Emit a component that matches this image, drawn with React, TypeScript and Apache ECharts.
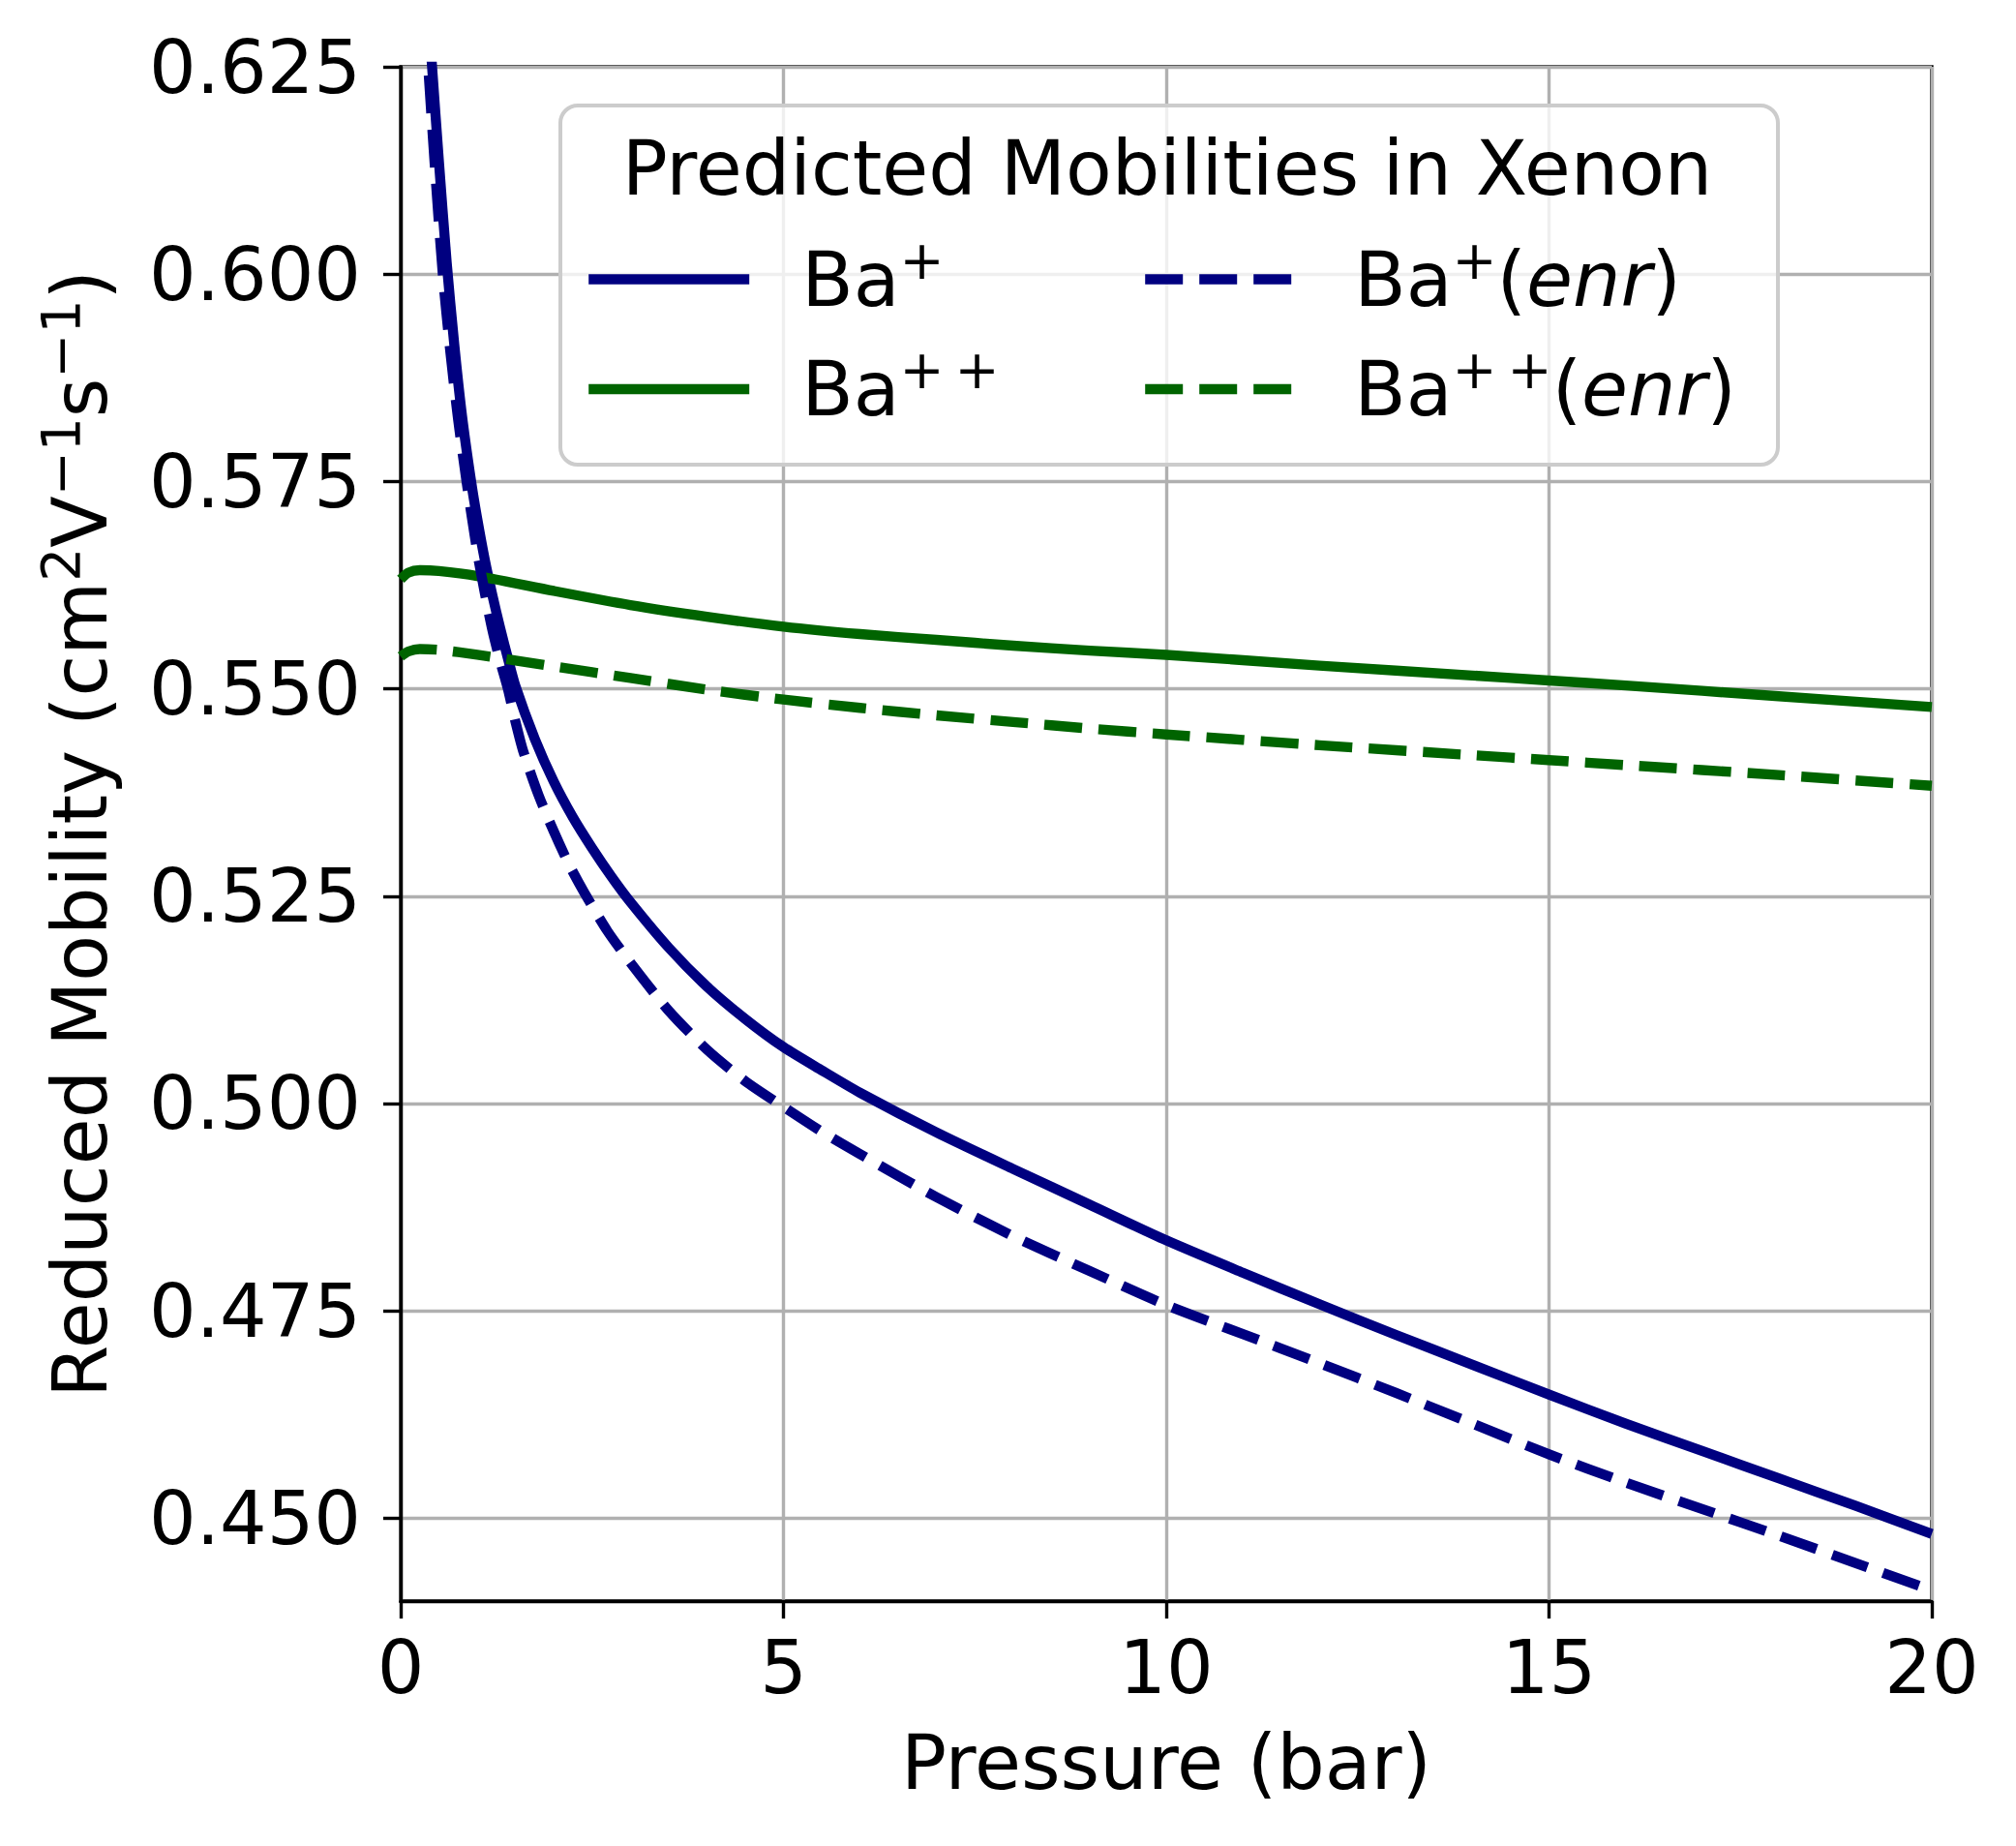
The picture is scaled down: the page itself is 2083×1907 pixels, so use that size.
import React, { useEffect, useRef } from "react";
import * as echarts from "echarts";

const xTicks = [0, 5, 10, 15, 20];
const yTicks = [0.45, 0.475, 0.5, 0.525, 0.55, 0.575, 0.6, 0.625];

const legendTitle = "Predicted Mobilities in Xenon";
const xAxisTitle = "Pressure (bar)";
const yAxisTitleRich = "{t|Reduced Mobility (cm}{s|2}{t|V}{s|\u22121}{t|s}{s|\u22121}{t|)}";

const seriesNames = ["Ba+", "Ba++", "Ba+(enr)", "Ba++(enr)"];
const seriesRichLabels = [
  "{t|Ba}{s|+}",
  "{t|Ba}{s|+\u2009+}",
  "{t|Ba}{s|+}{t|(}{i|enr}{t|)}",
  "{t|Ba}{s|+\u2009+}{t|(}{i|enr}{t|)}",
];

// Ba+ (solid)
const pressureBaPlus = [0.3, 0.35, 0.41, 0.5, 0.6, 0.7, 0.8, 0.92, 1.0, 1.1, 1.2, 1.3, 1.4, 1.5, 1.75, 2.0, 2.25, 2.5, 2.75, 3.0, 3.5, 4.0, 4.5, 5.0, 5.5, 6.0, 7, 8, 9, 10, 11, 12, 13, 14, 15, 16, 17, 18, 19, 20];
const mobilityBaPlus = [0.641, 0.633, 0.625, 0.6135, 0.6015, 0.5915, 0.583, 0.575, 0.5705, 0.5655, 0.5612, 0.5573, 0.5537, 0.5503, 0.544, 0.5388, 0.5345, 0.5308, 0.5274, 0.5243, 0.5188, 0.5141, 0.5102, 0.5068, 0.504, 0.5013, 0.4965, 0.4921, 0.4878, 0.4835, 0.4796, 0.4758, 0.4721, 0.4685, 0.4649, 0.4614, 0.4581, 0.4548, 0.4515, 0.4481];

// Ba+ (enr) (dashed)
const pressureBaPlusEnr = [0.28, 0.36, 0.45, 0.55, 0.65, 0.75, 0.86, 1.0, 1.1, 1.2, 1.3, 1.4, 1.5, 1.6, 1.8, 2.0, 2.2, 2.4, 2.7, 3.0, 3.5, 4.0, 4.5, 5.0, 5.5, 6.0, 7, 8, 9, 10, 11, 12, 13, 14, 15, 16, 17, 18, 19, 20];
const mobilityBaPlusEnr = [0.637, 0.625, 0.6125, 0.6, 0.5905, 0.5825, 0.575, 0.5665, 0.5615, 0.557, 0.5533, 0.55, 0.546, 0.5425, 0.5372, 0.5328, 0.5288, 0.5254, 0.5208, 0.517, 0.5112, 0.5065, 0.5027, 0.4996, 0.4966, 0.4939, 0.4887, 0.484, 0.4798, 0.4757, 0.4722, 0.4687, 0.4651, 0.4614, 0.4577, 0.4543, 0.4511, 0.4479, 0.4446, 0.4413];

// Ba++ (solid) and Ba++ (enr) (dashed)
const pressureBaPlusPlus = [0.0, 0.1, 0.25, 0.5, 1.0, 2.0, 3.0, 4.0, 5.0, 6.0, 7.0, 8.0, 9.0, 10, 12, 14, 15, 16, 18, 20];
const mobilityBaPlusPlus = [0.5632, 0.564, 0.5643, 0.5642, 0.5636, 0.5618, 0.5601, 0.5587, 0.5575, 0.5566, 0.5559, 0.5552, 0.5546, 0.5541, 0.5528, 0.5516, 0.551, 0.5504, 0.5491, 0.5478];
const mobilityBaPlusPlusEnr = [0.5539, 0.5545, 0.5548, 0.5547, 0.5541, 0.5527, 0.5513, 0.5499, 0.5487, 0.5477, 0.5468, 0.546, 0.5452, 0.5445, 0.5432, 0.542, 0.5414, 0.5408, 0.5396, 0.5383];

const NAVY = "#000080";
const DGREEN = "#006400";
const FONT = "DejaVu Sans";
const FS = 78;
const FS_TICK = 76.5;
const FS_SUP = 55;
const LW = 10.4;
const DASH = [39, 17];

const zip = (xs: number[], ys: number[]) => xs.map((x, i) => [x, ys[i]]);

const richStyles = {
  t: { fontSize: FS, fontFamily: FONT, color: "#000", lineHeight: 95, verticalAlign: "middle" },
  i: { fontSize: FS, fontFamily: FONT, color: "#000", fontStyle: "italic", lineHeight: 95, verticalAlign: "middle" },
  s: { fontSize: FS_SUP, fontFamily: FONT, color: "#000", lineHeight: FS_SUP, verticalAlign: "top" },
};

const seriesColors = [NAVY, DGREEN, NAVY, DGREEN];
const seriesDashed = [false, false, true, true];

function buildOption() {
  const mk = (idx: number, xs: number[], ys: number[]) => ({
    type: "line",
    name: seriesNames[idx],
    data: zip(xs, ys),
    symbol: "none",
    showSymbol: false,
    smooth: 0.25,
    clip: true,
    z: 3,
    itemStyle: { color: seriesColors[idx] },
    lineStyle: {
      color: seriesColors[idx],
      width: LW,
      type: seriesDashed[idx] ? DASH : "solid",
      cap: "butt",
      join: "round",
    },
  });

  const legendItem = (idx: number) => ({
    name: seriesNames[idx],
    itemStyle: { color: "transparent", opacity: 0, borderWidth: 0 },
    lineStyle: {
      color: seriesColors[idx],
      width: LW,
      type: seriesDashed[idx] ? DASH : "solid",
      cap: "butt",
      opacity: 1,
    },
  });

  const legendCommon = {
    orient: "vertical",
    itemWidth: 166,
    itemHeight: 95,
    itemGap: 27,
    padding: 0,
    selectedMode: false,
    z: 12,
    itemStyle: { color: "transparent", opacity: 0, borderWidth: 0 },
    formatter: (name: string) => seriesRichLabels[seriesNames.indexOf(name)],
  };

  return {
    animation: false,
    backgroundColor: "#ffffff",
    grid: {
      left: 414,
      top: 69,
      width: 1582,
      height: 1585,
      show: true,
      borderColor: "#000",
      borderWidth: 3.4,
      backgroundColor: "transparent",
    },
    xAxis: {
      type: "value",
      min: xTicks[0],
      max: xTicks[xTicks.length - 1],
      interval: xTicks[1] - xTicks[0],
      name: xAxisTitle,
      nameLocation: "middle",
      nameGap: 128,
      nameTextStyle: { fontSize: FS, fontFamily: FONT, color: "#000" },
      axisLine: { show: true, onZero: false, lineStyle: { color: "#000", width: 3.4 } },
      axisTick: { show: true, inside: false, length: 18, lineStyle: { color: "#000", width: 3.4 } },
      axisLabel: { fontSize: FS_TICK, fontFamily: FONT, color: "#000", margin: 30 },
      splitLine: { show: true, lineStyle: { color: "#b0b0b0", width: 3.4 } },
    },
    yAxis: {
      type: "value",
      min: 0.44,
      max: 0.625,
      minInterval: 0.025,
      maxInterval: 0.025,
      name: yAxisTitleRich,
      nameLocation: "middle",
      nameRotate: 90,
      nameGap: 284,
      nameTextStyle: { fontSize: FS, fontFamily: FONT, color: "#000", rich: richStyles },
      axisLine: { show: true, onZero: false, lineStyle: { color: "#000", width: 3.4 } },
      axisTick: { show: true, inside: false, length: 18, customValues: yTicks, lineStyle: { color: "#000", width: 3.4 } },
      axisLabel: {
        fontSize: FS_TICK,
        fontFamily: FONT,
        color: "#000",
        margin: 41,
        customValues: yTicks,
        formatter: (v: number) => v.toFixed(3),
      },
      splitLine: { show: true, lineStyle: { color: "#b0b0b0", width: 3.4 } },
    },
    legend: [
      {
        ...legendCommon,
        data: [legendItem(0), legendItem(1)],
        left: 603,
        top: 241,
        textStyle: { fontSize: FS, fontFamily: FONT, color: "#000", rich: richStyles, padding: [0, 0, 0, 49] },
      },
      {
        ...legendCommon,
        data: [legendItem(2), legendItem(3)],
        left: 1178,
        top: 241,
        textStyle: { fontSize: FS, fontFamily: FONT, color: "#000", rich: richStyles, padding: [0, 0, 0, 45] },
      },
    ],
    graphic: [
      {
        type: "rect",
        z: 10,
        silent: true,
        shape: { x: 579, y: 109, width: 1258, height: 371, r: 18 },
        style: { fill: "rgba(255,255,255,0.8)", stroke: "#cccccc", lineWidth: 4 },
      },
      {
        type: "text",
        z: 11,
        silent: true,
        x: 1206,
        y: 174,
        style: {
          text: legendTitle,
          fontSize: FS,
          fontFamily: FONT,
          fill: "#000",
          textAlign: "center",
          textVerticalAlign: "middle",
        },
      },
    ],
    series: [
      mk(0, pressureBaPlus, mobilityBaPlus),
      mk(1, pressureBaPlusPlus, mobilityBaPlusPlus),
      mk(2, pressureBaPlusEnr, mobilityBaPlusEnr),
      mk(3, pressureBaPlusPlus, mobilityBaPlusPlusEnr),
    ],
  };
}

export default function App() {
  const ref = useRef<HTMLDivElement>(null);
  useEffect(() => {
    document.body.style.margin = "0";
    const chart = echarts.init(ref.current!, null, { renderer: "svg" });
    chart.setOption(buildOption() as any);
    return () => chart.dispose();
  }, []);
  return <div ref={ref} style={{ width: 2083, height: 1907 }} />;
}
